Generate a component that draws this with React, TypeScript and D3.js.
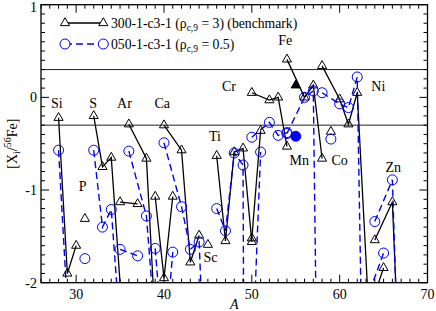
import React from "react";
import * as d3 from "d3";

// isotopes of each element, connected by a line within one element
const elements = ["Si", "P", "S", "Cl", "Ar", "K", "Ca", "Sc", "Ti", "V", "Cr", "Fe", "Co", "Ni", "Cu", "Zn"];
const isotopes = [
  [28, 29, 30], [31], [32, 33, 34, 36], [35, 37], [36, 38, 40], [39, 40, 41],
  [40, 42, 43, 44, 46], [45], [46, 47, 48, 49, 50], [50, 51], [50, 52, 53, 54],
  [54, 56, 57, 58], [59], [58, 60, 61, 62, 64], [63, 65], [64, 66, 67]
];

// 300-1-c3-1 (benchmark)
const benchmark: (number | null)[][] = [
  [-0.22, -1.9, -1.6], [-1.31], [-0.2, -0.75, -0.65, -3.35], [-1.13, -1.15],
  [-0.29, -0.66, -4.2], [-1.07, -1.95, -1.07], [-0.3, -0.57, -1.78, -1.49, null],
  [-1.59], [-0.63, -1.55, -0.59, -0.55, -1.56], [-1.52, -0.36], [0.05, -0.03, 0.0, -0.53],
  [0.41, 0, 0.13, -0.66], [-0.37], [0.34, -0.02, -0.29, 0.05, -3.55], [-2.4, -1.84],
  [-1.54, -1.13, -3.4]
];

// 050-1-c3-1
const lowDensity: (number | null)[][] = [
  [-0.57, -2.25, -2.6], [-1.74], [-0.57, -1.4, -1.21, -3.8], [-1.64, -1.71],
  [-0.58, -1.28, -3.7], [-1.63, -2.8, -1.67], [-0.49, -1.18, -1.64, -1.56, -6.2],
  [null], [-1.2, -1.44, -0.6, -0.73, -25], [-3.0, -0.59], [-0.43, -0.27, -0.41, -0.38],
  [-0.39, 0, 0.07, -7.5], [-0.45], [0.05, -0.07, -0.11, 0.22, -10.8], [-2.2, -1.68],
  [-1.34, -0.89, -3.9]
];

// Mn55, drawn filled
const mnA = 55;
const mnBenchmark = 0.13;
const mnLowDensity = -0.42;

const refLines = [0.3, -0.3];
const xTicks = [30, 40, 50, 60, 70];
const yTicks = [-2, -1, 0, 1];

// element labels: [name, A, value] anchor of text centre/baseline
const labels: [string, number, number][] = [
  ["Si", 27.8, -0.12], ["S", 31.95, -0.12], ["Ar", 35.5, -0.12], ["Ca", 39.8, -0.12],
  ["P", 30.75, -1.01], ["Ti", 45.8, -0.47], ["Sc", 45.3, -1.78], ["Cr", 47.4, 0.07],
  ["Fe", 53.8, 0.56], ["Mn", 55.4, -0.73], ["Co", 60.0, -0.73], ["Ni", 64.4, 0.07],
  ["Zn", 66.1, -0.8]
];

const W = 436, H = 311;
const left = 41, right = 427.5, top = 4.7, bottom = 282.7;
const font = "'Liberation Serif', 'Times New Roman', serif";
const blue = "#0000ff";

export default function App() {
  const x = d3.scaleLinear().domain([26, 70]).range([left, right]);
  const y = d3.scaleLinear().domain([-2, 1]).range([bottom, top]);

  const line = d3.line<[number, number | null]>()
    .defined(d => d[1] !== null)
    .x(d => x(d[0]))
    .y(d => y(d[1] as number));

  const tri = d3.symbol(d3.symbolTriangle, 36)();

  const chains = (vals: (number | null)[][]) =>
    isotopes.map((iso, i) => iso.map((a, j) => [a, vals[i][j]] as [number, number | null]));

  const blackChains = chains(benchmark);
  const blueChains = chains(lowDensity);
  const visible = (d: [number, number | null]) => d[1] !== null && (d[1] as number) >= -2;

  const xMinor = d3.range(26, 71, 1);
  const yMinor = d3.range(-20, 11, 1).map(v => v / 10);

  return (
    <svg width={W} height={H} style={{ position: "absolute", left: 0, top: 0, background: "#fff" }}
      fontFamily={font}>
      <defs>
        <clipPath id="plot">
          <rect x={left} y={top} width={right - left} height={bottom - top} />
        </clipPath>
      </defs>

      {refLines.map(v => (
        <line key={v} x1={left} x2={right} y1={y(v)} y2={y(v)} stroke="#222" strokeWidth={1} />
      ))}

      <g clipPath="url(#plot)">
        {blackChains.map((c, i) => c.length > 1 && (
          <path key={"bl" + i} d={line(c) || ""} fill="none" stroke="#000" strokeWidth={1.3} />
        ))}
        {blueChains.map((c, i) => c.length > 1 && (
          <path key={"ul" + i} d={line(c) || ""} fill="none" stroke={blue} strokeWidth={1.4}
            strokeDasharray="7,4" />
        ))}
      </g>

      {blackChains.flat().filter(visible).map((d, i) => (
        <path key={"bt" + i} d={tri || ""} transform={`translate(${x(d[0])},${y(d[1] as number)})`}
          fill="none" stroke="#000" strokeWidth={1} />
      ))}
      {blueChains.flat().filter(visible).map((d, i) => (
        <circle key={"uc" + i} cx={x(d[0])} cy={y(d[1] as number)} r={5}
          fill="none" stroke={blue} strokeWidth={1} />
      ))}
      <path d={tri || ""} transform={`translate(${x(mnA)},${y(mnBenchmark)})`} fill="#000" stroke="#000" />
      <circle cx={x(mnA)} cy={y(mnLowDensity)} r={5} fill={blue} stroke={blue} />

      {labels.map(([name, a, v]) => (
        <text key={name} x={x(a)} y={y(v)} textAnchor="middle" fontSize={14}>{name}</text>
      ))}

      {/* frame and ticks */}
      <rect x={left} y={top} width={right - left} height={bottom - top} fill="none" stroke="#000" strokeWidth={1.3} />
      <g stroke="#000" strokeWidth={1}>
        {xMinor.map(t => {
          const len = t % 10 === 0 ? 8 : 4;
          return (
            <g key={"xt" + t}>
              <line x1={x(t)} x2={x(t)} y1={bottom} y2={bottom - len} />
              <line x1={x(t)} x2={x(t)} y1={top} y2={top + len} />
            </g>
          );
        })}
        {yMinor.map(t => {
          const len = Math.abs(t - Math.round(t)) < 1e-6 ? 8 : 4;
          return (
            <g key={"yt" + t}>
              <line x1={left} x2={left + len} y1={y(t)} y2={y(t)} />
              <line x1={right} x2={right - len} y1={y(t)} y2={y(t)} />
            </g>
          );
        })}
      </g>
      {xTicks.map(t => (
        <text key={"xl" + t} x={x(t)} y={bottom + 16} textAnchor="middle" fontSize={14}>{t}</text>
      ))}
      {yTicks.map(t => (
        <text key={"yl" + t} x={left - 4} y={Math.max(y(t) + 5, 12)} textAnchor="end" fontSize={14}>{t}</text>
      ))}

      <text x={(left + right) / 2} y={309} textAnchor="middle" fontSize={14} fontStyle="italic">A</text>
      <text transform={`translate(17,${(top + bottom) / 2}) rotate(-90)`} textAnchor="middle" fontSize={14}>
        [X<tspan dy={3} fontSize={10}>i</tspan><tspan dy={-3}>/</tspan>
        <tspan dy={-6} fontSize={10}>56</tspan><tspan dy={6}>Fe]</tspan>
      </text>

      {/* legend */}
      <g>
        <line x1={65} x2={103.3} y1={23} y2={23} stroke="#000" strokeWidth={1.3} />
        <path d={tri || ""} transform="translate(65,23)" fill="#fff" stroke="#000" />
        <path d={tri || ""} transform="translate(103.3,23)" fill="#fff" stroke="#000" />
        <text x={111} y={27.5} fontSize={13.7}>
          300-1-c3-1 (ρ<tspan dy={3} fontSize={9.5}>c,9</tspan><tspan dy={-3}> = 3) (benchmark)</tspan>
        </text>
        <line x1={65} x2={103.3} y1={44} y2={44} stroke={blue} strokeWidth={1.4} strokeDasharray="7,4" />
        <circle cx={65} cy={44} r={5} fill="#fff" stroke={blue} />
        <circle cx={103.3} cy={44} r={5} fill="#fff" stroke={blue} />
        <text x={111} y={48.5} fontSize={13.7}>
          050-1-c3-1 (ρ<tspan dy={3} fontSize={9.5}>c,9</tspan><tspan dy={-3}> = 0.5)</tspan>
        </text>
      </g>
    </svg>
  );
}
